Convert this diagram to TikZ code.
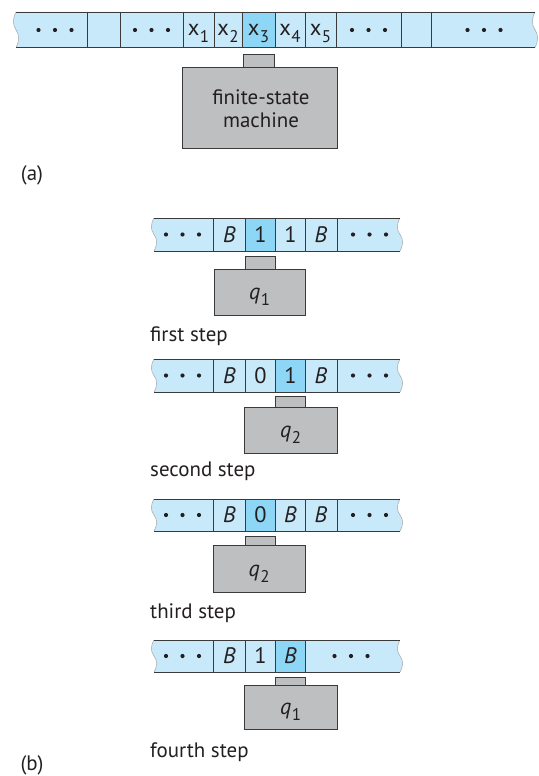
\documentclass[tikz,border=0pt]{standalone}
\usepackage{fontspec}
\setmainfont{PT Sans}
\definecolor{tapeblue}{HTML}{C8E9F9}
\definecolor{headblue}{HTML}{8DD6F5}
\definecolor{boxgray}{HTML}{BEBFC1}
\definecolor{edgec}{HTML}{3A3A3A}
\definecolor{ink}{HTML}{231F20}
\newcommand\cellfont{\fontsize{22.5}{22.5}\selectfont}
\newcommand\tmsub[2]{#1\kern0.5pt\raisebox{-0.28em}{\fontsize{17}{17}\selectfont #2}}
% tape: #1=L #2=R #3=T #4=B
\newcommand\tmtape[4]{%
  \pgfmathsetmacro\tH{#4-#3}%
  \fill[tapeblue] (#1,#3) -- (#2,#3)
    .. controls ({#2-3.5},{#3+0.2*\tH}) and ({#2-3.5},{#3+0.35*\tH}) .. (#2,{#3+0.5*\tH})
    .. controls ({#2+3.5},{#3+0.65*\tH}) and ({#2+3.5},{#3+0.8*\tH}) .. (#2,#4)
    -- (#1,#4)
    .. controls ({#1+3.5},{#4-0.2*\tH}) and ({#1+3.5},{#4-0.35*\tH}) .. (#1,{#4-0.5*\tH})
    .. controls ({#1-3.5},{#4-0.65*\tH}) and ({#1-3.5},{#4-0.8*\tH}) .. (#1,#3) -- cycle;
  \draw[wavy] (#2,#3)
    .. controls ({#2-3.5},{#3+0.2*\tH}) and ({#2-3.5},{#3+0.35*\tH}) .. (#2,{#3+0.5*\tH})
    .. controls ({#2+3.5},{#3+0.65*\tH}) and ({#2+3.5},{#3+0.8*\tH}) .. (#2,#4);
  \draw[wavy] (#1,#4)
    .. controls ({#1+3.5},{#4-0.2*\tH}) and ({#1+3.5},{#4-0.35*\tH}) .. (#1,{#4-0.5*\tH})
    .. controls ({#1-3.5},{#4-0.65*\tH}) and ({#1-3.5},{#4-0.8*\tH}) .. (#1,#3);
}
\newcommand\tmedges[4]{%
  \draw[tapeline] (#1,#3) -- (#2,#3);
  \draw[tapeline] (#1,#4) -- (#2,#4);
}
\newcommand\tmdots[2]{\foreach \dx in {-16.5,0,16.5} {\fill[ink] ({#1+\dx},#2) circle (2.1bp);}}
\newcommand\tmdiv[3]{\foreach \xx in {#1} {\draw[tapeline] (\xx,#2) -- (\xx,#3);}}
\begin{document}
\begin{tikzpicture}[x=1bp,y=-1bp,
  wavy/.style={draw=gray!70, line width=0.5bp},
  tapeline/.style={draw=edgec, line width=0.9bp},
  celltext/.style={text=ink, font=\cellfont, inner sep=0pt, anchor=base},
  headbox/.style={draw=edgec, fill=boxgray, line width=0.9bp, inner sep=0pt, outer sep=0pt, anchor=north west},
  label/.style={text=ink, inner sep=0pt, anchor=base west, font=\fontsize{21}{21}\selectfont},
]
\useasboundingbox (0,0) rectangle (539,776);

% ---------------- (a) ----------------
\tmtape{16}{535}{12}{47.5}
\fill[headblue] (242,12) rectangle (275,47.5);
\tmdiv{87,120,183,214,242,275,305,336,401,431}{12}{47.5}
\tmedges{16}{535}{12}{47.5}
\tmdots{55}{30}
\tmdots{151.5}{30}
\tmdots{368.5}{30}
\tmdots{484}{30}
\node[celltext] (ax1) at (198.5,36) {\tmsub{x}{1}};
\node[celltext] (ax2) at (228,36) {\tmsub{x}{2}};
\node[celltext] (ax3) at (258.5,36) {\tmsub{x}{3}};
\node[celltext] (ax4) at (290,36) {\tmsub{x}{4}};
\node[celltext] (ax5) at (320.5,36) {\tmsub{x}{5}};
\node[headbox, minimum width=31bp, minimum height=13bp] (ahead) at (243,54) {};
\node[headbox, minimum width=155bp, minimum height=81bp] (afsm) at (182,67) {};
\node[text=ink, align=center, font=\fontsize{21}{23.5}\selectfont, inner sep=0pt] (afsmtext) at ([xshift=1.5bp,yshift=-1bp]afsm.center) {finite-state\\machine};
\node[label, anchor=center] (la) at (32,175) {(a)};

% ---------------- step 1 ----------------
\tmtape{154}{400}{218}{251}
\fill[headblue] (245.5,218) rectangle (275.5,251);
\tmdiv{213,245.5,275.5,305,337}{218}{251}
\tmedges{154}{400}{218}{251}
\tmdots{182.5}{234.5}
\tmdots{369.5}{234.5}
\node[celltext] (s1c1) at (229.5,242) {\textit{B}};
\node[celltext] (s1c2) at (260.5,242) {1};
\node[celltext] (s1c3) at (290.5,242) {1};
\node[celltext] (s1c4) at (321,242) {\textit{B}};
\node[headbox, minimum width=30bp, minimum height=13bp] (s1head) at (245.5,256) {};
\node[headbox, minimum width=91bp, minimum height=46bp] (s1box) at (214,269) {};
\node[celltext] (s1q) at ([yshift=-7bp]s1box.center) {\tmsub{\textit{q}}{1}};
\node[label] (l1) at (150,341) {first step};

% ---------------- step 2 ----------------
\tmtape{154}{400}{359}{392}
\fill[headblue] (275.5,359) rectangle (305,392);
\tmdiv{213,245.5,275.5,305,337}{359}{392}
\tmedges{154}{400}{359}{392}
\tmdots{182.5}{375.5}
\tmdots{369.5}{375.5}
\node[celltext] (s2c1) at (229.5,383) {\textit{B}};
\node[celltext] (s2c2) at (260.5,383) {0};
\node[celltext] (s2c3) at (290.5,383) {1};
\node[celltext] (s2c4) at (321,383) {\textit{B}};
\node[headbox, minimum width=29.5bp, minimum height=11bp] (s2head) at (275.5,396) {};
\node[headbox, minimum width=93bp, minimum height=46bp] (s2box) at (244,407) {};
\node[celltext] (s2q) at ([yshift=-7bp]s2box.center) {\tmsub{\textit{q}}{2}};
\node[label] (l2) at (150,476) {second step};

% ---------------- step 3 ----------------
\tmtape{154}{400}{499}{531}
\fill[headblue] (245.5,499) rectangle (275.5,531);
\tmdiv{213,245.5,275.5,305,337}{499}{531}
\tmedges{154}{400}{499}{531}
\tmdots{182.5}{515}
\tmdots{369.5}{515}
\node[celltext] (s3c1) at (229.5,522.5) {\textit{B}};
\node[celltext] (s3c2) at (260.5,522.5) {0};
\node[celltext] (s3c3) at (290.5,522.5) {\textit{B}};
\node[celltext] (s3c4) at (321,522.5) {\textit{B}};
\node[headbox, minimum width=30bp, minimum height=9.5bp] (s3head) at (245.5,536) {};
\node[headbox, minimum width=92bp, minimum height=47bp] (s3box) at (213,545.5) {};
\node[celltext] (s3q) at ([yshift=-7bp]s3box.center) {\tmsub{\textit{q}}{2}};
\node[label] (l3) at (150,618) {third step};

% ---------------- step 4 ----------------
\tmtape{154}{400}{640}{672}
\fill[headblue] (275.5,640) rectangle (305,672);
\tmdiv{213,245.5,275.5,305}{640}{672}
\tmedges{154}{400}{640}{672}
\tmdots{182.5}{656}
\tmdots{351}{656}
\node[celltext] (s4c1) at (229.5,663.5) {\textit{B}};
\node[celltext] (s4c2) at (260.5,663.5) {1};
\node[celltext] (s4c3) at (290.5,663.5) {\textit{B}};
\node[headbox, minimum width=29.5bp, minimum height=8.5bp] (s4head) at (275.5,677) {};
\node[headbox, minimum width=93bp, minimum height=44bp] (s4box) at (244,685.5) {};
\node[celltext] (s4q) at ([yshift=-7bp]s4box.center) {\tmsub{\textit{q}}{1}};
\node[label] (l4) at (150,757) {fourth step};
\node[label, anchor=center] (lb) at (32,765) {(b)};
\end{tikzpicture}
\end{document}
